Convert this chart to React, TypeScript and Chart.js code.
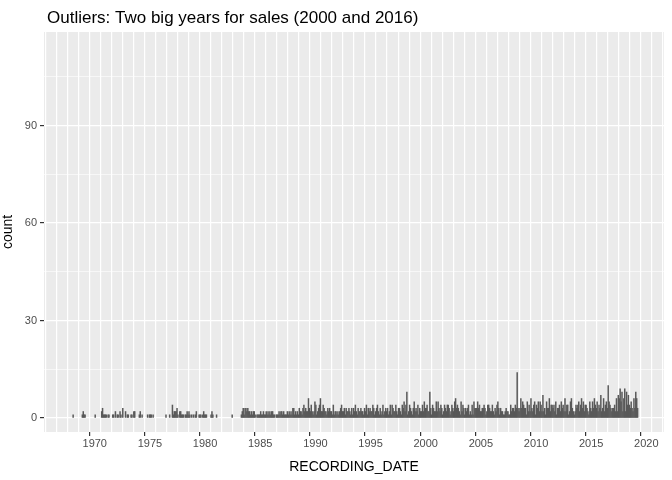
import { Chart, registerables } from 'chart.js';
import { useEffect, useRef } from 'react';

Chart.register(...registerables);

// monthly counts per year (one character per month, base 36)
const firstYear = 1968;
const monthlyCounts: string[] = [
  '100000000012', // 1968
  '110000000000',
  '100000023111', // 1970
  '101100011020',
  '110210300201',
  '100110220000',
  '120100000101',
  '110100000000', // 1975
  '000001000100',
  '412223102211',
  '101121210101',
  '012001110121',
  '110000121000', // 1980
  '100000000000',
  '000001000000',
  '000123133232',
  '212122101111',
  '211211212121', // 1985
  '221101112122',
  '121112121213',
  '312121322134',
  '232263242125',
  '412346224322', // 1990
  '132322141221',
  '212342231322',
  '321313242132',
  '232213241323',
  '224312342131', // 1995
  '241232312414',
  '322421332143',
  '524812432135',
  '232413224253',
  '342283143225', // 2000
  '253243124324',
  '431243256343',
  '215243132341',
  '214153335342',
  '233431244322', // 2005
  '421324531322',
  '112322114233',
  '243e32363543',
  '315242632451',
  '435254272315', // 2010
  '336244342513',
  '342534262441',
  '256321243452',
  '463524432153',
  '253643524372', // 2015
  '362453a54323',
  '342627695826',
  '928474353263',
  '8630',
];

const binX: number[] = [];
const binCount: number[] = [];
monthlyCounts.forEach((s, yi) => {
  s.split('').forEach((c, mi) => {
    binX.push(firstYear + yi + (mi + 0.5) / 12);
    binCount.push(parseInt(c, 36));
  });
});

const xTicks = [1970, 1975, 1980, 1985, 1990, 1995, 2000, 2005, 2010, 2015, 2020];
const yTicks = [0, 30, 60, 90];
const titleText = 'Outliers: Two big years for sales (2000 and 2016)';

export default function App() {
  const canvasRef = useRef<HTMLCanvasElement>(null);
  const chartRef = useRef<Chart | null>(null);

  useEffect(() => {
    if (!canvasRef.current) return;
    const ctx = canvasRef.current.getContext('2d');
    if (!ctx) return;

    const panelBg = {
      id: 'panelBg',
      beforeDraw(chart: Chart) {
        const { ctx: c, chartArea: a } = chart;
        c.save();
        c.fillStyle = '#ebebeb';
        c.fillRect(a.left, a.top, a.right - a.left, a.bottom - a.top);
        c.restore();
      },
      afterDraw(chart: Chart) {
        const { ctx: c, chartArea: a } = chart;
        c.save();
        c.fillStyle = '#000';
        c.font = '17px "Liberation Sans"';
        c.textBaseline = 'alphabetic';
        c.fillText(titleText, a.left + 3, 23);
        c.restore();
      },
    };

    chartRef.current = new Chart(ctx, {
      type: 'bar',
      data: {
        datasets: [
          {
            data: binX.map((x, i) => ({ x, y: binCount[i] > 0 ? binCount[i] : null })),
            backgroundColor: '#595959',
            barPercentage: 1,
            categoryPercentage: 1,
            barThickness: 0.85,
          },
        ],
      },
      options: {
        animation: false,
        responsive: false,
        layout: { padding: { left: 0, right: 8, top: 32, bottom: 0 } },
        plugins: {
          legend: { display: false },
          tooltip: { enabled: false },
          title: { display: false },
        },
        scales: {
          x: {
            type: 'linear',
            min: 1965.4,
            max: 2021.6,
            offset: false,
            afterBuildTicks(scale: any) {
              const t = [];
              for (let y = 1966; y <= 2021; y++) t.push({ value: y });
              scale.ticks = t;
            },
            afterFit(scale: any) {
              scale.height = 48;
            },
            grid: {
              color: '#ffffff',
              lineWidth: 1.2,
              drawTicks: true,
              tickColor: (c: any) => (xTicks.includes(c.tick?.value) ? '#333333' : 'rgba(0,0,0,0)'),
              tickLength: 4,
            },
            border: { display: false },
            ticks: {
              autoSkip: false,
              maxRotation: 0,
              color: '#4d4d4d',
              font: { family: 'Liberation Sans', size: 11 },
              padding: 1,
              callback: (v: any) => (xTicks.includes(v) ? String(v) : ''),
            },
            title: {
              display: true,
              text: 'RECORDING_DATE',
              color: '#000',
              font: { family: 'Liberation Sans', size: 14 },
              padding: { top: 0, bottom: 4 },
            },
          },
          y: {
            min: -4.3,
            max: 118.8,
            afterBuildTicks(scale: any) {
              scale.ticks = [0, 15, 30, 45, 60, 75, 90, 105].map((value) => ({ value }));
            },
            afterFit(scale: any) {
              scale.width = 44;
            },
            grid: {
              color: '#ffffff',
              lineWidth: (c: any) => (yTicks.includes(c.tick?.value) ? 1.2 : 0.6),
              tickColor: (c: any) => (yTicks.includes(c.tick?.value) ? '#333333' : 'rgba(0,0,0,0)'),
              tickLength: 4,
            },
            border: { display: false },
            ticks: {
              color: '#4d4d4d',
              font: { family: 'Liberation Sans', size: 11 },
              padding: 3,
              callback: (v: any) => (yTicks.includes(v) ? String(v) : ''),
            },
            title: {
              display: true,
              text: 'count',
              color: '#000',
              font: { family: 'Liberation Sans', size: 14 },
              padding: { top: 0, bottom: 2 },
            },
          },
        },
      },
      plugins: [panelBg],
    });

    return () => {
      chartRef.current?.destroy();
    };
  }, []);

  return (
    <div style={{ position: 'absolute', left: 0, top: 0, background: '#fff' }}>
      <canvas ref={canvasRef} width={672} height={480} />
    </div>
  );
}
